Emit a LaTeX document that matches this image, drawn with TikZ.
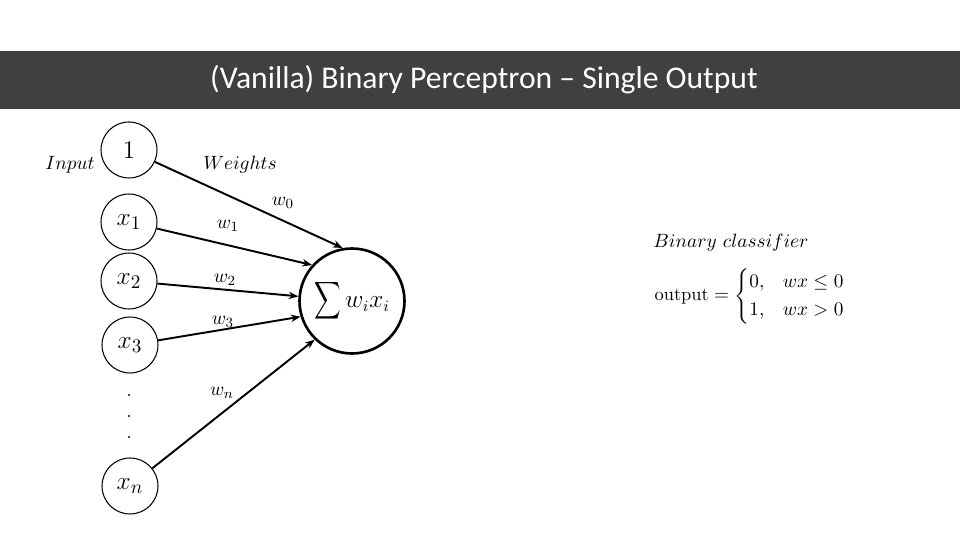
\documentclass[tikz,border=0pt]{standalone}
\usepackage{amsmath,amssymb,graphicx}
\usepackage{fontspec}
\newfontfamily\titlefont{Carlito}
\usetikzlibrary{arrows.meta}
\definecolor{bandGray}{RGB}{64,64,64}
\tikzset{
    >={Stealth[length=5.5pt,width=4.2pt]},
    unit/.style={circle,draw=black,line width=0.6pt,minimum size=1.12cm,inner sep=0pt,font=\fontsize{15.5}{18}\selectfont},
    sumunit/.style={circle,draw=black,line width=1.5pt,minimum size=2.1cm,inner sep=0pt,font=\fontsize{13.5}{16}\selectfont},
    lbl/.style={font=\fontsize{11}{13}\selectfont},
    wire/.style={line width=1.1pt,->}
}

\begin{document}
\begin{tikzpicture}[x=0.02cm,y=-0.02cm]
    \useasboundingbox (0,0) rectangle (960,540);
    \fill[bandGray] (0,51) rectangle (960,109);
    \node[text=white,font=\titlefont\fontsize{18}{21}\selectfont] (title) at (484,80) {(Vanilla) Binary Perceptron \textendash{} Single Output};

    % inputs
    \node[unit] (one) at (129,150) {$1$};
    \node[unit] (x1) at (129,222) {$x_1$};
    \node[unit] (x2) at (129,281) {$x_2$};
    \node[unit] (x3) at (130,345) {$x_3$};
    \node[unit] (xn) at (130,486) {$x_n$};
    \foreach \y in {395,416,437}
        \fill (129,\y) circle (0.7pt);

    \node[sumunit] (sum) at (352,301) {$\scalebox{0.78}[1.1]{$\displaystyle\sum$}\, w_i x_i$};

    \draw[wire] (one) -- (sum.100);
    \draw[wire] (x1) -- (sum.138);
    \draw[wire] (x2) -- (sum.175);
    \draw[wire] (x3) -- (sum.197);
    \draw[wire] (xn) -- (sum.226);

    \node[lbl] (input) at (70,165) {$Input$};
    \node[lbl] (weights) at (240,165) {$Weights$};
    \node[lbl] (w0) at (283,203) {$w_0$};
    \node[lbl] (w1) at (228,226) {$w_1$};
    \node[lbl] (w2) at (225,280) {$w_2$};
    \node[lbl] (w3) at (223,322) {$w_3$};
    \node[lbl] (wn) at (222,393) {$w_n$};

    % classifier
    \node[lbl] (clf) at (731,243) {$Binary\ classifier$};
    \node[lbl,font=\fontsize{10.5}{13}\selectfont] (rule) at (750,296) {$\text{output} = \begin{cases} 0, & wx \le 0\\ 1, & wx > 0\end{cases}$};
\end{tikzpicture}
\end{document}
